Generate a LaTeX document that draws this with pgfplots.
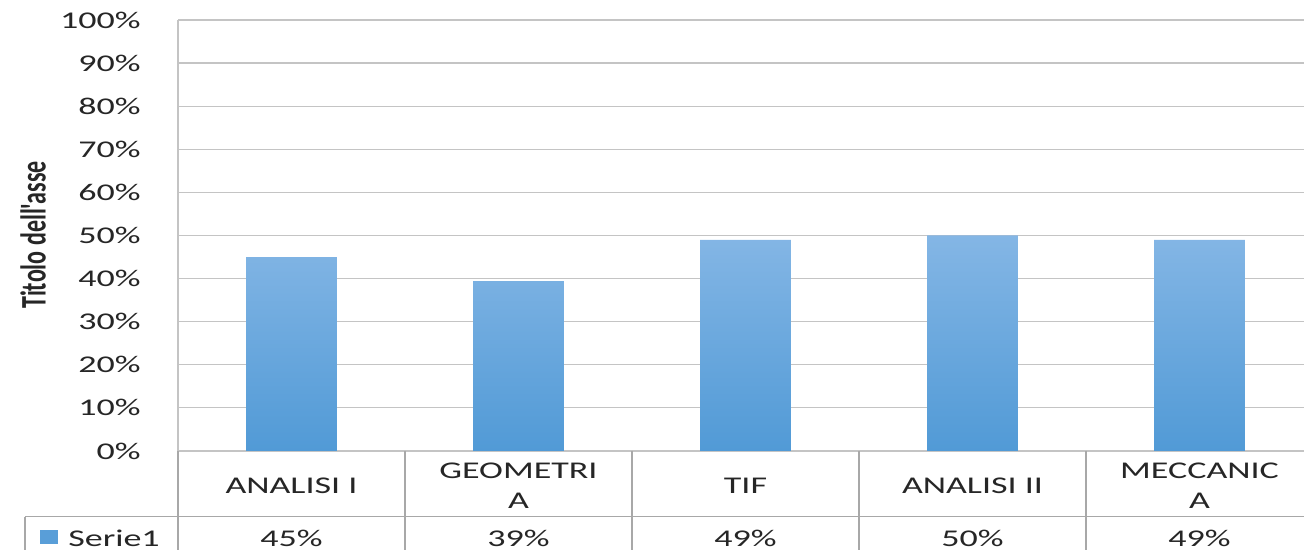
\documentclass[border=0pt]{standalone}
\usepackage{fontspec}
\setmainfont{Carlito}[FakeStretch=1.5]
\newfontfamily\titlefont{Carlito}
\usepackage{pgfplots}
\pgfplotsset{compat=1.18}
\definecolor{gridc}{HTML}{C4C4C4}
\definecolor{tabc}{HTML}{A8A8A8}
\definecolor{bartop}{HTML}{84B6E5}
\definecolor{barbot}{HTML}{519AD6}
\definecolor{txt}{HTML}{262626}
\begin{document}
\begin{tikzpicture}[font=\fontsize{12}{15}\selectfont, text=txt]
\useasboundingbox (0,0) rectangle (652pt,275pt);
\clip (0,0) rectangle (652pt,275pt);
\node[rotate=90, inner sep=0pt] at (16.5pt,157.5pt) {\scalebox{1}[1.5]{\titlefont\bfseries Titolo dell'asse}};
\begin{axis}[
  at={(89pt,49.5pt)}, anchor=south west,
  scale only axis, width=567.5pt, height=215.5pt,
  xmin=-0.5, xmax=4.5, ymin=0, ymax=100,
  clip=false,
  axis x line*=bottom, axis y line*=left,
  axis line style={-, draw=gridc, line width=0.6pt},
  ymajorgrids, grid style={draw=gridc, line width=0.6pt},
  major tick length=0pt,
  ytick={0,10,...,100},
  yticklabels={0\%,10\%,20\%,30\%,40\%,50\%,60\%,70\%,80\%,90\%,100\%},
  yticklabel style={anchor=east, inner sep=0pt, xshift=-18.5pt, text=txt},
  xtick={0,1,2,3,4},
  xticklabels={ANALISI I, {GEOMETRI\\A}, TIF, ANALISI II, {MECCANIC\\A}},
  xticklabel style={align=center, anchor=center, inner sep=0pt, yshift=-17.5pt, text=txt},
]
\addplot[ybar, bar width=0.4, draw=none, top color=bartop, bottom color=barbot]
  coordinates {(0,45) (1,39.4) (2,49) (3,50) (4,49)};
% data table lines
\draw[tabc, line width=0.6pt] (axis cs:-0.5,0) -- (axis cs:-0.5,-30);
\draw[tabc, line width=0.6pt] (axis cs:0.5,0) -- (axis cs:0.5,-30);
\draw[tabc, line width=0.6pt] (axis cs:1.5,0) -- (axis cs:1.5,-30);
\draw[tabc, line width=0.6pt] (axis cs:2.5,0) -- (axis cs:2.5,-30);
\draw[tabc, line width=0.6pt] (axis cs:3.5,0) -- (axis cs:3.5,-30);
\draw[tabc, line width=0.6pt] (axis cs:-1.174,-15.2) -- (axis cs:4.6,-15.2);
\draw[tabc, line width=0.6pt] (axis cs:-1.174,-15.2) -- (axis cs:-1.174,-30);
\fill[barbot!85!bartop] (axis cs:-1.108,-18.3) rectangle (axis cs:-1.029,-21.6);
\node[anchor=west, inner sep=0pt] at (axis cs:-0.985,-20.2) {Serie1};
\node[inner sep=0pt] at (axis cs:0,-20.2) {45\%};
\node[inner sep=0pt] at (axis cs:1,-20.2) {39\%};
\node[inner sep=0pt] at (axis cs:2,-20.2) {49\%};
\node[inner sep=0pt] at (axis cs:3,-20.2) {50\%};
\node[inner sep=0pt] at (axis cs:4,-20.2) {49\%};
\end{axis}
\end{tikzpicture}
\end{document}
